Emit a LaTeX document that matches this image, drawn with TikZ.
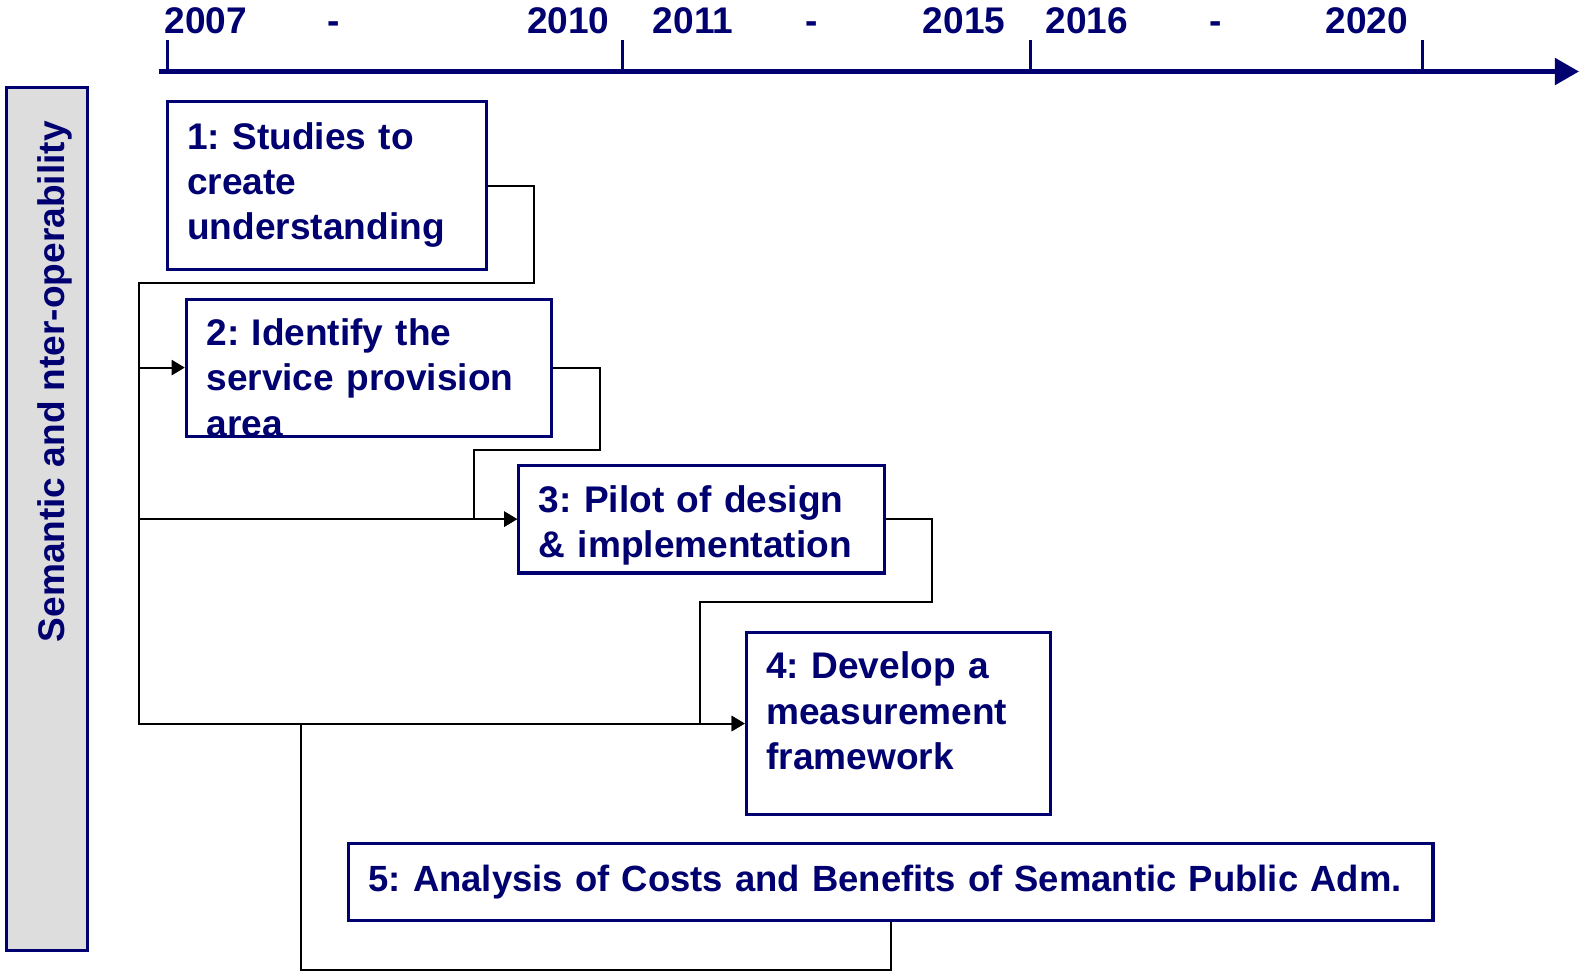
\documentclass[tikz,border=0pt]{standalone}
\usepackage{fontspec}
\setmainfont{Liberation Sans}
\usetikzlibrary{arrows.meta}
\definecolor{navy}{RGB}{0,0,112}
\definecolor{barfill}{RGB}{221,221,221}
\frenchspacing

\begin{document}
\begin{tikzpicture} [x = 0.5pt, y = -0.5pt, font = \fontsize{18.4}{22.5}\selectfont\bfseries,
  box/.style = {draw = navy, line width = 1.5pt, fill = white, text = navy, align = left, inner xsep = 10pt, inner ysep = 0pt, text height = 13pt},
  year/.style = {text = navy, inner sep = 0pt, anchor = base west},
  gap/.style = {text = navy, inner sep = 0pt, anchor = base},
  tick/.style = {draw = navy, line width = 1.5pt},
  link/.style = {draw = black, line width = 1pt},
  tip/.style = {-{Triangle[length = 6.5pt, width = 7.5pt]}}]
\useasboundingbox (0,0) rectangle (1568,965);
\draw [fill = barfill, draw = navy, line width = 1.5pt] (6,87) rectangle (87,944);
\node [text = navy, inner sep = 0pt, rotate = 90, anchor = base east] (theme) at (64,120) {Semantic and nter-operability};
\node [year] (y2007) at (163,33) {2007};
\node [gap] (g1) at (331,33) {-};
\node [year] (y2010) at (523,33) {2010};
\node [year] (y2011) at (648,33) {2011};
\node [gap] (g2) at (806,33) {-};
\node [year] (y2015) at (916,33) {2015};
\node [year] (y2016) at (1038,33) {2016};
\node [gap] (g3) at (1207,33) {-};
\node [year] (y2020) at (1316,33) {2020};
\draw [navy, line width = 2.5pt, -{Triangle[length = 12pt, width = 13pt]}] (158,71) -- (1568,71);
\foreach \t in {166, 618, 1023, 1413}
  \draw [tick] (\t,40) -- (\t,72);
\node [box, text width = 138.5pt, minimum height = 83.5pt, text depth = 49.5pt] (b1) at (324.5,184.5) {1: Studies to\\create\\understanding};
\node [box, text width = 161.5pt, minimum height = 68pt, text depth = 35pt] (b2) at (366.5,365) {2: Identify the\\service provision\\area};
\node [box, text width = 161.5pt, minimum height = 53.5pt, text depth = 19.5pt] (b3) at (696.5,515.5) {3: Pilot of design\\\& implementation};
\node [box, text width = 131pt, minimum height = 90.5pt, text depth = 57.5pt] (b4) at (892,718.5) {4: Develop a\\measurement\\framework};
\node [box, text width = 518.5pt, minimum height = 38pt, text height = 13pt, text depth = 4pt, font = \fontsize{18.1}{22.5}\selectfont\bfseries] (b5) at (884.5,876) {\mbox{5: Analysis of Costs and Benefits of Semantic Public Adm.}};
\coordinate (bus) at (138,281);
\coordinate (merge) at (299,718.5);
\draw [link, tip] (b1.east) -- ++(46,0) |- (bus) |- (b2.west);
\draw [link, tip] (bus) |- (b4.west);
\draw [link, tip] (bus |- b3.west) -- (b3.west);
\draw [link, tip] (b2.east) -- ++(46,0) -- ++(0,82) -- ++(-125,0) |- (b3.west);
\draw [link, tip] (b3.east) -- ++(46,0) -- ++(0,82) -- ++(-230,0) |- (b4.west);
\draw [link] (b5.south) -- ++(0,48) -| (merge);
\end{tikzpicture}
\end{document}
